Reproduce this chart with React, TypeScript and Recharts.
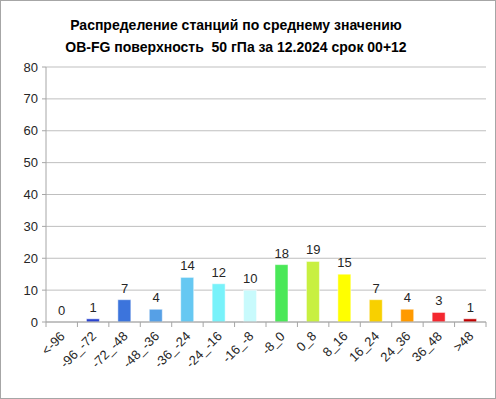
import React from "react";
import { ComposedChart, Bar, Line, XAxis, YAxis, CartesianGrid, Cell, LabelList } from "recharts";

const categories = ["<-96", "-96_-72", "-72_-48", "-48_-36", "-36_-24", "-24_-16", "-16_-8", "-8_0", "0_8", "8_16", "16_24", "24_36", "36_48", ">48"];
const counts = [0, 1, 7, 4, 14, 12, 10, 18, 19, 15, 7, 4, 3, 1];
const colors = ["#2a44d0", "#2a44d0", "#3c74dc", "#56a0e6", "#66c8f2", "#78f2fa", "#c8fafc", "#4ae858", "#c8f040", "#ffff00", "#f8d000", "#ff9a00", "#f42830", "#c00000"];
const yTicks = [0, 10, 20, 30, 40, 50, 60, 70, 80];
const titleLines = ["Распределение станций по среднему значению", "OB-FG поверхность  50 гПа за 12.2024 срок 00+12"];

const data = categories.map((c, i) => ({ name: c, value: counts[i] }));

const W = 496;
const H = 399;
const PLOT_LEFT = 46;
const PLOT_RIGHT = 10;
const STEP = (W - PLOT_LEFT - PLOT_RIGHT) / categories.length;
const FONT = "Liberation Sans, Arial, sans-serif";

const XTick = (props: any) => {
  const { x, y, payload, index } = props;
  const last = index === categories.length - 1;
  return (
    <g>
      <line x1={x - STEP / 2} y1={y - 8} x2={x - STEP / 2} y2={y - 3} stroke="#a6a6a6" />
      {last && <line x1={x + STEP / 2} y1={y - 8} x2={x + STEP / 2} y2={y - 3} stroke="#a6a6a6" />}
      <text
        x={x + 4}
        y={y + 7}
        textAnchor="end"
        transform={`rotate(-45 ${x + 4} ${y + 7})`}
        fontSize={13}
        fill="#262626"
        fontFamily={FONT}
      >
        {payload.value}
      </text>
    </g>
  );
};

export default function App() {
  return (
    <div style={{ position: "absolute", left: 0, top: 0, width: W, height: H, background: "#fff" }}>
      <div
        style={{
          position: "absolute",
          left: 0,
          top: 0,
          width: W - 2,
          height: H - 2,
          border: "1px solid #a6a6a6",
          pointerEvents: "none",
          zIndex: 2,
        }}
      />
      <svg style={{ position: "absolute", left: 0, top: 0 }} width={W} height={60}>
        {titleLines.map((t, i) => (
          <text
            key={i}
            x={236}
            y={30 + i * 22}
            textAnchor="middle"
            fontSize={14}
            fontWeight="bold"
            fill="#000"
            fontFamily={FONT}
            style={{ whiteSpace: "pre" }}
          >
            {t}
          </text>
        ))}
      </svg>
      <ComposedChart
        width={W}
        height={H}
        data={data}
        margin={{ top: 67, right: PLOT_RIGHT, bottom: 0, left: 0 }}
        barSize={13}
      >
        <CartesianGrid vertical={false} stroke="#bfbfbf" />
        <XAxis
          dataKey="name"
          height={77}
          interval={0}
          tickLine={false}
          axisLine={{ stroke: "#a6a6a6" }}
          tick={<XTick />}
        />
        <YAxis
          width={PLOT_LEFT}
          domain={[0, 80]}
          ticks={yTicks}
          tickSize={4}
          tickLine={{ stroke: "#a6a6a6" }}
          axisLine={{ stroke: "#a6a6a6" }}
          tick={{ fontSize: 13, fill: "#262626", fontFamily: FONT }}
          tickMargin={4}
        />
        <Bar dataKey="value" isAnimationActive={false}>
          {data.map((d, i) => (
            <Cell key={i} fill={colors[i]} stroke="#ffffff" strokeOpacity={0.5} />
          ))}
        </Bar>
        <Line dataKey="value" stroke="none" dot={false} activeDot={false} isAnimationActive={false}>
          <LabelList dataKey="value" position="top" offset={7} fontSize={13} fill="#262626" fontFamily={FONT} />
        </Line>
      </ComposedChart>
    </div>
  );
}
